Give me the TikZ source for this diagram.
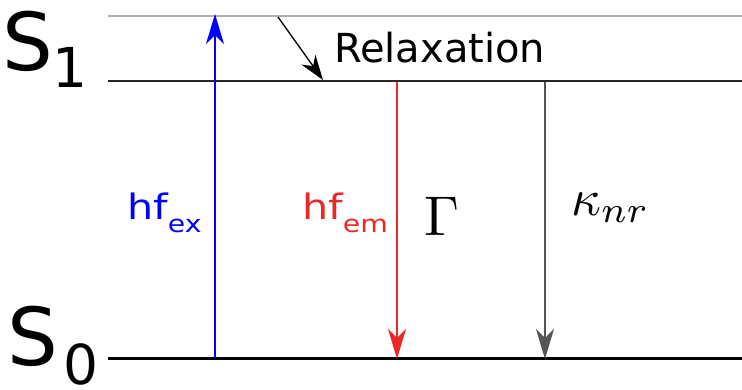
\documentclass[tikz,border=0pt]{standalone}
\usepackage{fontspec}
\setmainfont{DejaVu Sans}
\usetikzlibrary{arrows.meta}
\definecolor{topgray}{RGB}{175,175,175}
\definecolor{arrgray}{RGB}{85,85,85}
\definecolor{emred}{RGB}{235,40,40}
\begin{document}
\begin{tikzpicture}[x=1pt,y=-1pt,
  tip/.style={-{Stealth[length=30pt,width=18pt,inset=9pt]}},
  rtip/.style={-{Stealth[length=25pt,width=17pt,inset=8pt]}},
  lbl/.style={inner sep=0pt,anchor=base west},
  big/.style={font=\fontsize{80}{80}\selectfont},
  sub/.style={font=\fontsize{55}{55}\selectfont},
  hf/.style={font=\fontsize{35}{35}\selectfont,xscale=1.18},
]
\useasboundingbox (0,0) rectangle (742,389);
% levels
\coordinate (tl) at (108,16);  \coordinate (tr) at (742,16);
\coordinate (s1l) at (108,81); \coordinate (s1r) at (742,81);
\coordinate (s0l) at (108,358); \coordinate (s0r) at (742,358);
\draw[topgray,line width=2pt] (tl) -- (tr);
\draw[black!85,line width=2.5pt] (s1l) -- (s1r);
\draw[black,line width=3pt] (s0l) -- (s0r);
% arrows
\coordinate (exb) at (215,358); \coordinate (ext) at (215,14);
\draw[blue,line width=1.4pt,tip] (exb) -- (ext);
\coordinate (ra) at (278,17); \coordinate (rb) at (323,80);
\draw[black,line width=1.3pt,rtip] (ra) -- (rb);
\coordinate (ema) at (397,82); \coordinate (emb) at (397,359);
\draw[emred,line width=1.3pt,tip] (ema) -- (emb);
\coordinate (nra) at (545,82); \coordinate (nrb) at (545,359);
\draw[arrgray,line width=1.5pt,tip] (nra) -- (nrb);
% labels
\node[lbl,big] (S1) at (2,70) {S};
\node[lbl,sub] (S1s) at (52,87) {1};
\node[lbl,big] (S0) at (7,365) {S};
\node[lbl,sub] (S0s) at (63,384) {0};
\node[lbl,font=\fontsize{40}{40}\selectfont] (relax) at (334,62) {Relaxation};
\node[lbl,hf,blue] (hfex) at (127,219) {hf\raisebox{-13pt}{\fontsize{24}{24}\selectfont ex}};
\node[lbl,hf,emred] (hfem) at (302,219) {hf\raisebox{-13pt}{\fontsize{24}{24}\selectfont em}};
\node[lbl,scale=5.6] (G) at (423,235) {$\Gamma$};
\node[lbl,scale=5.2] (k) at (570,215) {$\kappa_{nr}$};
\end{tikzpicture}
\end{document}
